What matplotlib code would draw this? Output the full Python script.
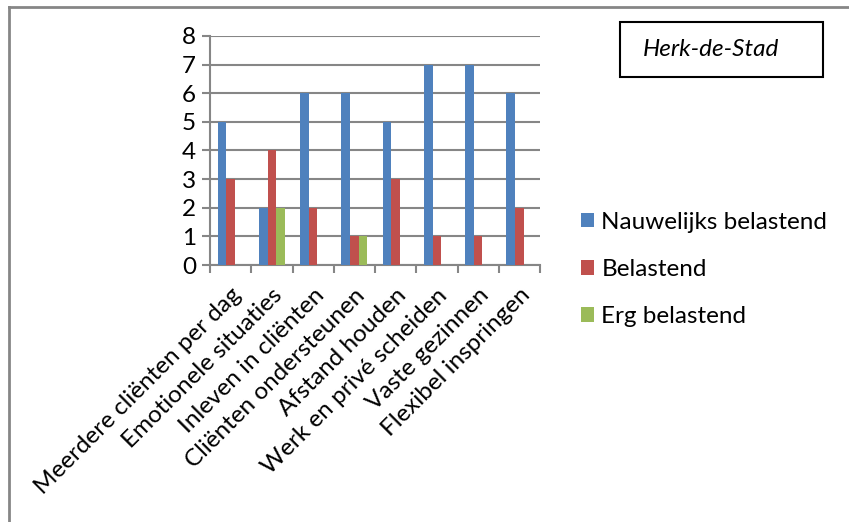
import numpy as np
import matplotlib.pyplot as plt
from matplotlib.patches import Rectangle

plt.rcParams['font.family'] = ['Lato', 'DejaVu Sans']

categories = ['Meerdere cliënten per dag', 'Emotionele situaties', 'Inleven in cliënten',
              'Cliënten ondersteunen', 'Afstand houden', 'Werk en privé scheiden',
              'Vaste gezinnen', 'Flexibel inspringen']
nauwelijks = [5, 2, 6, 6, 5, 7, 7, 6]
belastend = [3, 4, 2, 1, 3, 1, 1, 2]
erg = [0, 2, 0, 1, 0, 0, 0, 0]
series_names = ['Nauwelijks belastend', 'Belastend', 'Erg belastend']
colors = ['#4F81BD', '#C0504D', '#9BBB59']

W, H = 849, 522
fig = plt.figure(figsize=(W / 100, H / 100), dpi=100)

# axes rectangle in pixel terms
x0, x1, y0, y1 = 210, 540, 265, 36
ax = fig.add_axes([x0 / W, 1 - y0 / H, (x1 - x0) / W, (y0 - y1) / H])

grey = '#868686'
fs = 17.5
n = len(categories)
x = np.arange(n)
bw = 0.21
for k, vals in enumerate([nauwelijks, belastend, erg]):
    ax.bar(x + (k - 1) * bw, vals, bw, color=colors[k], zorder=3,
           label=series_names[k])

ax.set_xlim(-0.5, n - 0.5)
ax.set_ylim(0, 8)
ax.set_yticks(range(9))
ax.yaxis.grid(True, color=grey, lw=1.5, zorder=0)
ax.set_xticks(np.arange(n + 1) - 0.5)
ax.set_xticklabels([])
ax.set_xticks(x, minor=True)
ax.set_xticklabels(categories, minor=True, rotation=45, ha='right',
                   rotation_mode='anchor', fontsize=fs)
ax.tick_params(axis='x', which='minor', length=0, pad=14)
ax.tick_params(axis='x', which='major', length=6, width=1.5, color=grey)
ax.tick_params(axis='y', length=6, width=1.5, color=grey, labelsize=fs, pad=4)
for s in ['top', 'right']:
    ax.spines[s].set_visible(False)
for s in ['left', 'bottom']:
    ax.spines[s].set_color(grey)
    ax.spines[s].set_linewidth(1.5)

# legend placed outside the axes
leg = fig.legend(loc='upper left', bbox_to_anchor=(571 / W, 1 - 202 / H),
                 frameon=False, fontsize=fs, handlelength=0.55, handleheight=0.55,
                 handletextpad=0.3, labelspacing=1.08, borderaxespad=0)

# title box
fig.patches.append(Rectangle((620 / W, 1 - 77 / H), 203 / W, 55 / H,
                             transform=fig.transFigure, fill=False,
                             edgecolor='black', lw=1.5))
fig.text(711 / W, 1 - 50 / H, 'Herk-de-Stad', style='italic', fontsize=fs,
         ha='center', va='center')

# outer frame (top and left edges)
fig.add_artist(plt.Line2D([8.5 / W, 1], [1 - 7 / H, 1 - 7 / H], color=grey, lw=2,
                          transform=fig.transFigure))
fig.add_artist(plt.Line2D([8.5 / W, 8.5 / W], [0, 1 - 7 / H], color=grey, lw=2,
                          transform=fig.transFigure))

fig.savefig('out.png', dpi=100)
